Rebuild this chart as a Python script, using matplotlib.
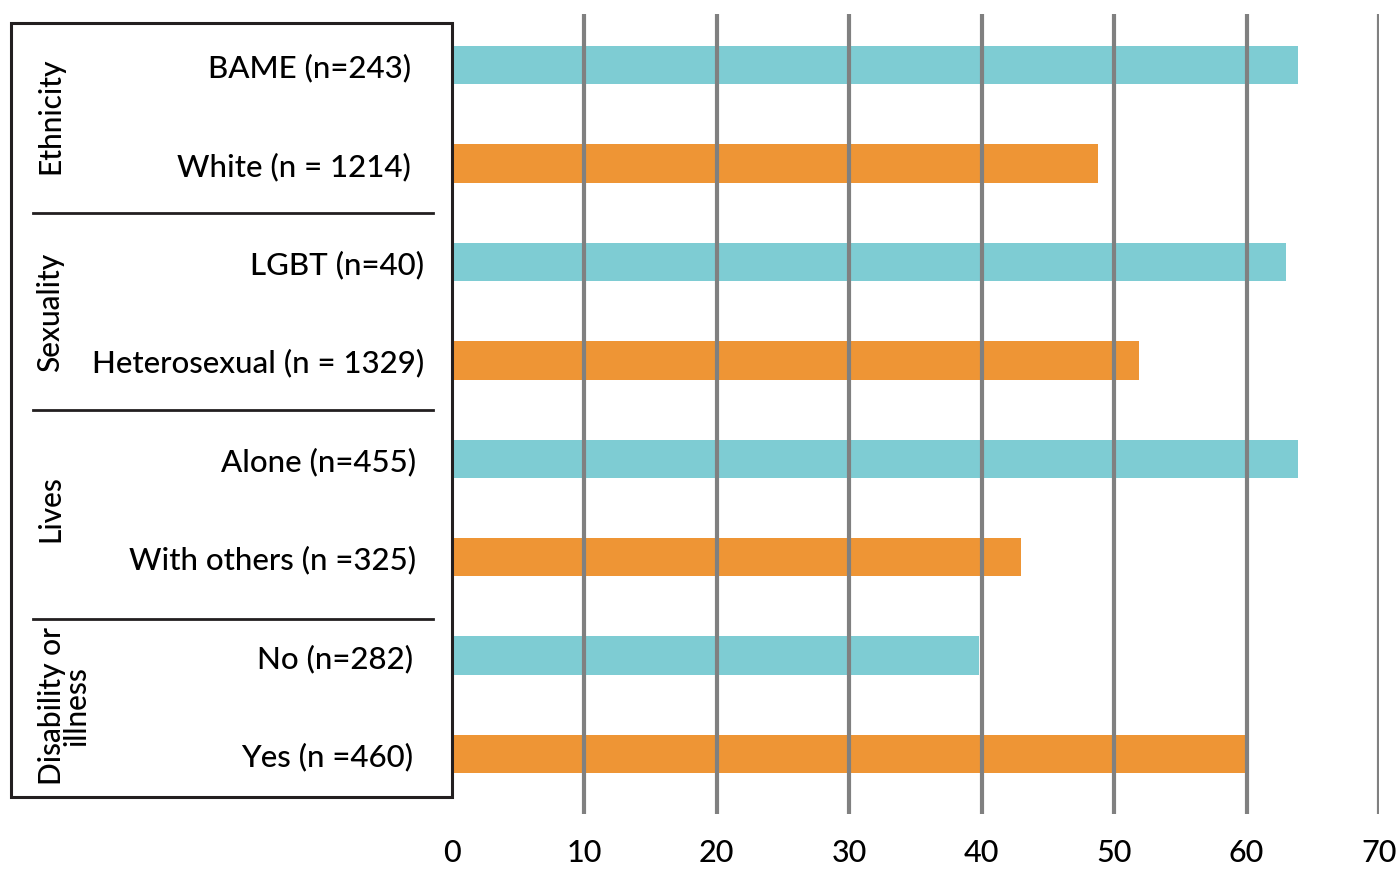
import matplotlib
matplotlib.use("Agg")
import matplotlib.pyplot as plt
from matplotlib.patches import Rectangle
from matplotlib.lines import Line2D
import matplotlib.transforms as mtransforms

# Data
groups = ["Ethnicity", "Sexuality", "Lives", "Disability or\nillness"]
categories = [
    "BAME (n=243)", "White (n = 1214)",
    "LGBT (n=40)", "Heterosexual (n = 1329)",
    "Alone (n=455)", "With others (n =325)",
    "No (n=282)", "Yes (n =460)",
]
values = [63.85, 48.75, 63.0, 51.9, 63.85, 43.0, 39.8, 59.85]
xticks = [0, 10, 20, 30, 40, 50, 60, 70]

TEAL = "#7ECCD3"
ORANGE = "#EE9535"
GRID = "#808080"
INK = "#231F20"
FONT = "Lato"
WEIGHT = "medium"

W, H = 1399, 870
fig = plt.figure(figsize=(W / 100, H / 100), dpi=100)

def fx(px):
    return px / W

def fy(py):
    return 1 - py / H

# axes area in pixels
ax_left, ax_right, ax_top, ax_bottom = 452, 1379, 15, 815
ax = fig.add_axes([fx(ax_left), fy(ax_bottom), fx(ax_right - ax_left), (ax_bottom - ax_top) / H])

ypos = list(range(len(categories)))
colors = [TEAL if i % 2 == 0 else ORANGE for i in ypos]
ax.barh(ypos, values, height=0.39, color=colors, zorder=1)

for t in xticks[1:]:
    ax.axvline(t, color=GRID, lw=3.0, zorder=2)

ax.set_xlim(0, 70)
ax.set_ylim(7.61, -0.52)
ax.set_xticks(xticks)
ax.set_xticklabels([str(t) for t in xticks], fontsize=22, family=FONT,
                   weight=WEIGHT, color="black")
ax.tick_params(axis="x", length=0, pad=17)
ax.set_yticks([])
for s in ax.spines.values():
    s.set_visible(False)

# Category labels, right aligned beside the bars
trans = mtransforms.blended_transform_factory(fig.transFigure, ax.transData)
label_right = [411, 411, 424, 424, 416, 416, 413, 413]
for i, (lab, rx) in enumerate(zip(categories, label_right)):
    fig.text(fx(rx), i + 0.02, lab, transform=trans, ha="right", va="center",
             fontsize=22.5, family=FONT, weight=WEIGHT, color="black")

# Group labels, rotated
group_x = [50, 50, 50, 64]
for g, (name, gx) in enumerate(zip(groups, group_x)):
    fig.text(fx(gx), 2 * g + 0.5, name, transform=trans, rotation=90,
             ha="center", va="center", fontsize=21.5, family=FONT,
             weight=WEIGHT, color="black", linespacing=0.85,
             multialignment="center")

# Frame around the labels
fig.patches.append(Rectangle((fx(11), fy(798)), fx(452 - 11), (798 - 24) / H,
                             transform=fig.transFigure, fill=False,
                             edgecolor=INK, lw=2.2, zorder=5))

# Group dividers
for yd in [1.5, 3.5, 5.63]:
    fig.lines.append(Line2D([fx(33), fx(433)], [yd, yd], transform=trans,
                            color=INK, lw=2.0))

fig.savefig("out.png", dpi=100, facecolor="white")
